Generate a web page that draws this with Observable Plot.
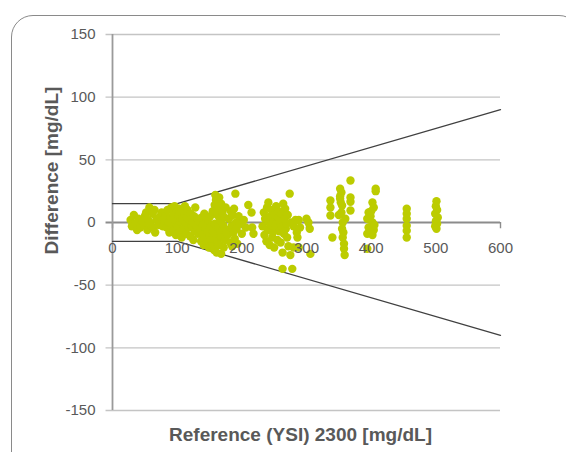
<!DOCTYPE html>
<html>
<head>
<meta charset="utf-8">
<script src="https://cdn.jsdelivr.net/npm/d3@7"></script>
<script src="https://cdn.jsdelivr.net/npm/@observablehq/plot@0.6"></script>
<style>
  html, body { margin: 0; padding: 0; background: #fff; }
  #wrap { position: relative; width: 566px; height: 452px; overflow: hidden; font-family: "Liberation Sans", Arial, sans-serif; }
  #frame { position: absolute; left: 11px; top: 15px; width: 570px; height: 460px; border: 1px solid #8a8a8a; border-radius: 22px; box-sizing: border-box; }
  #chart { position: absolute; left: 0; top: 0; }
</style>
</head>
<body>
<div id="wrap"><div id="frame"></div><div id="chart"></div></div>
<script>
// Reference (YSI) values [mg/dL]
const refValues = [
  28,30,33,35,38,40,43,46,48,50,52,54,55,57,58,60,62,63,65,66,68,70,72,74,76,78,80,
  82,84,85,87,88,90,91,92,94,95,96,97,98,100,101,102,103,104,105,106,107,108,110,111,112,113,114,115,116,118,119,120,121,122,124,125,126,127,128,130,131,132,134,
  136,137,138,139,140,141,142,143,144,145,146,147,148,149,150,151,152,153,154,155,156,157,158,158,159,160,160,161,162,162,163,164,165,165,166,167,168,168,169,170,171,172,173,174,175,176,
  178,180,182,183,184,185,186,187,188,189,190,191,192,193,195,197,200,203,206,210,215,216,218,
  232,234,235,236,238,239,240,241,242,243,244,245,246,247,248,249,250,251,252,253,254,255,256,257,258,259,260,261,262,263,263,264,265,266,267,268,269,270,271,272,274,275,276,278,280,280,283,285,286,288,288,290,300,303,305,306,
  337,337,337,340,352,352,353,354,352,355,354,356,355,357,356,358,358,359,360,350,368,368,368,368,
  407,407,402,404,396,399,394,402,396,404,394,402,394,400,405,
  455,455,455,455,455,455,
  501,500,502,499,503,500,502,499,501
];
// Difference values [mg/dL]
const diffValues = [
  2,-3,6,-1,-6,3,-4,1,-2,5,8,-6,2,12,0,-3,7,-4,10,-8,3,1,-2,5,8,-3,2,
  6,-4,10,0,-8,4,12,-2,7,-6,13,2,-10,9,-3,5,11,-7,1,8,-12,3,-5,6,13,-1,-9,4,10,-4,2,-11,7,-2,0,-14,5,-7,12,-3,3,-9,1,
  -6,-15,4,-10,-2,-18,7,-12,-5,2,-16,-8,0,-20,-11,5,-3,-14,-19,9,-7,-22,14,-1,22,-10,18,-24,6,-15,11,-4,20,-18,2,-8,15,-25,-12,8,-2,-20,4,-14,12,-6,
  -10,3,-16,9,-3,-19,6,-8,11,-13,23,0,-5,-17,5,-1,-9,2,-4,14,8,-4,-9,
  -3,8,-10,3,-15,12,-6,16,0,-18,5,-2,10,-12,-8,2,-20,6,-4,13,-1,-14,4,9,-7,1,-16,7,-3,-24,-37,15,-9,3,11,-5,-1,-12,6,-19,23,-26,0,-37,-20,-3,2,-8,-12,2,-20,-4,3,0,-5,-25,
  17.5,12,5.6,-12,27,21,16,24,19,13.5,8,0,-5,-8,-12,-17,-21,-26,3,6,33.5,20,16.5,9.6,
  27,25,16,12,8,5,3,0,-4,-6,-9,-10,-21,9,-2,
  11,7,3,-2.5,-6.5,-12,
  17,13,10,7,4,1,-1,-3,-5
];
// Boundary lines (±15 mg/dL below 100, ±15 % above)
const limitX = [0, 100, 600];
const limitUpper = [15, 15, 90];
const limitLower = [-15, -15, -90];
const xTicks = [0, 100, 200, 300, 400, 500, 600];
const yTicks = [-150, -100, -50, 0, 50, 100, 150];
const xTitle = "Reference (YSI) 2300 [mg/dL]";
const yTitle = "Difference [mg/dL]";

const points = refValues.map((x, i) => ({x, y: diffValues[i]}));
const upper = limitX.map((x, i) => ({x, y: limitUpper[i]}));
const lower = limitX.map((x, i) => ({x, y: limitLower[i]}));

const textColor = "#595959";
const plot = Plot.plot({
  width: 566,
  height: 452,
  marginLeft: 112,
  marginRight: 66,
  marginTop: 34,
  marginBottom: 42,
  style: {fontFamily: "'Liberation Sans', Arial, sans-serif", background: "transparent", overflow: "visible"},
  x: {domain: [0, 600], axis: null},
  y: {domain: [-150, 150]},
  marks: [
    Plot.ruleY(yTicks.filter(d => d !== 0), {x1: -10, x2: 600, stroke: "#c4c4c4", strokeWidth: 1.4}),
    Plot.ruleY([0], {x1: -10, x2: 600, stroke: "#8c8c8c", strokeWidth: 1.8}),
    Plot.ruleX(xTicks, {y1: 0, y2: -5, stroke: "#8c8c8c", strokeWidth: 1.4}),
    Plot.ruleX([0], {y1: -150, y2: 150, stroke: "#9a9a9a", strokeWidth: 1.8}),
    Plot.axisY(yTicks, {tickSize: 0, tickPadding: 17, fontSize: 15, fill: textColor, label: null, tickFormat: d => String(d)}),
    Plot.line(upper, {x: "x", y: "y", stroke: "#404040", strokeWidth: 1.3}),
    Plot.line(lower, {x: "x", y: "y", stroke: "#404040", strokeWidth: 1.3}),
    Plot.dot(points, {x: "x", y: "y", r: 4.2, fill: "#bccc00", stroke: "none"}),
    Plot.text(xTicks, {x: d => d, y: 0, dy: 26, fontSize: 15, fill: textColor, text: d => String(d)}),
    Plot.text([xTitle], {frameAnchor: "bottom", dx: -6, dy: 30, fontSize: 19, fontWeight: "bold", fill: textColor, text: d => d}),
    Plot.text([yTitle], {frameAnchor: "left", dx: -61, dy: 32, rotate: -90, fontSize: 19, fontWeight: "bold", fill: textColor, text: d => d})
  ]
});
document.getElementById("chart").appendChild(plot);
</script>
</body>
</html>
